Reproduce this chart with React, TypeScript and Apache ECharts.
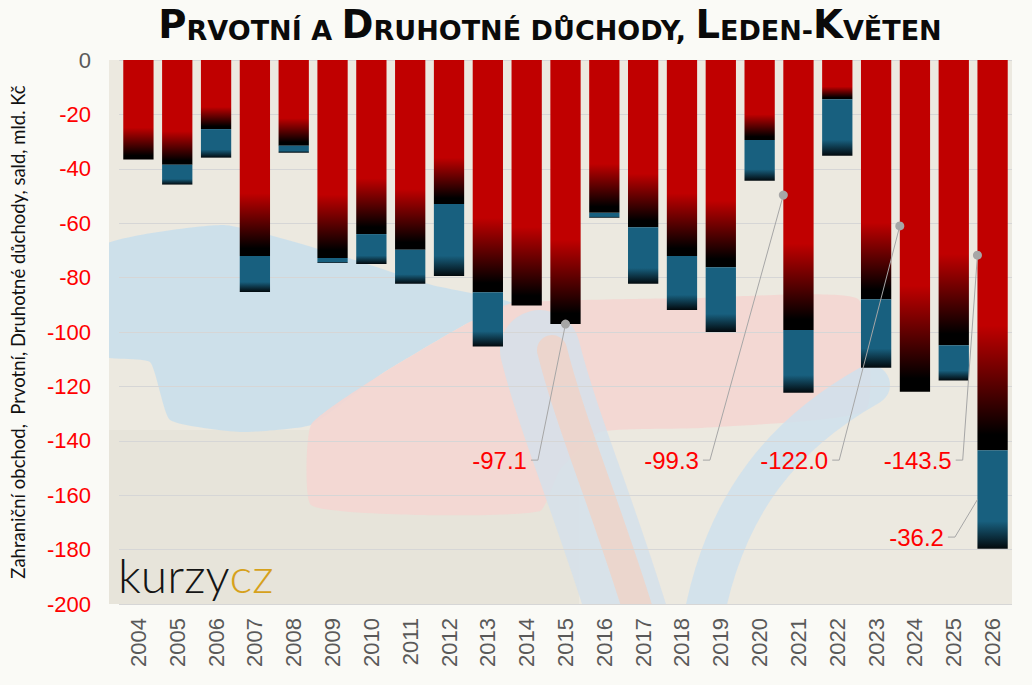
import React, { useEffect, useRef } from "react";
import * as echarts from "echarts";

const years = [
  "2004", "2005", "2006", "2007", "2008", "2009", "2010", "2011", "2012", "2013", "2014", "2015",
  "2016", "2017", "2018", "2019", "2020", "2021", "2022", "2023", "2024", "2025", "2026",
];

// Prvotní důchody (primary income balance), mld. Kč
const primary = [
  -36.6, -38.5, -25.4, -72.1, -31.5, -72.8, -64.0, -69.8, -52.9, -85.4, -90.3, -97.1,
  -56.2, -61.5, -72.1, -76.2, -29.4, -99.3, -14.4, -88.0, -122.0, -104.9, -143.5,
];

// Druhotné důchody (secondary income balance), mld. Kč
const secondary = [
  0, -7.3, -10.5, -13.2, -2.6, -1.8, -11.0, -12.5, -26.5, -19.9, 0, 0,
  -1.8, -20.8, -19.8, -23.8, -15.0, -23.0, -20.8, -25.1, 0, -12.9, -36.2,
];

const yTicks = { min: -200, max: 0, interval: 20 };

const titleText = "Prvotní a Druhotné důchody, Leden-Květen";
const yAxisTitle = "Zahraniční obchod,  Prvotní, Druhotné důchody, sald, mld. Kč";

// labelled data points: which year and which series
const labelledYears = ["2015", "2021", "2024", "2026", "2026"];
const labelledSeries = ["primary", "primary", "primary", "primary", "secondary"];

function buildTitleRich(text: string): string {
  let out = "";
  let cur = "";
  let curStyle = "";
  const flush = () => {
    if (cur) out += `{${curStyle}|${cur}}`;
    cur = "";
  };
  for (const ch of text) {
    const isUpper = ch !== ch.toLowerCase() && ch === ch.toUpperCase();
    const st = isUpper ? "B" : "s";
    if (st !== curStyle) {
      flush();
      curStyle = st;
    }
    cur += ch.toUpperCase();
  }
  flush();
  return out;
}

export default function App() {
  const ref = useRef<HTMLDivElement>(null);

  useEffect(() => {
    document.body.style.margin = "0";
    const chart = echarts.init(ref.current!, null, { renderer: "svg" });

    const BAR_FRAC = 0.78;
    const BG = "#FAFAF6";

    // annotation layout (placement of the data labels with leader lines)
    const layout = [
      { edge: 0, part: "end", dx: -0.71, ly: -147.1, dot: true },
      { edge: -1, part: "mid", dx: -2.28, ly: -147.1, dot: true },
      { edge: -1, part: "mid", dx: -1.95, ly: -147.1, dot: true },
      { edge: -1, part: "mid", dx: -0.77, ly: -147.1, dot: true },
      { edge: -1, part: "mid", dx: -0.97, ly: -175.4, dot: false },
    ];
    const annTexts: string[] = [];
    const annData = labelledYears.map((y, k) => {
      const i = years.indexOf(y);
      const isPrim = labelledSeries[k] === "primary";
      const v = isPrim ? primary[i] : secondary[i];
      const base = isPrim ? 0 : primary[i];
      const L = layout[k];
      const anchor = L.part === "end" ? base + v : base + v / 2;
      annTexts.push(v.toFixed(1));
      return [i, anchor, L.edge, L.dx, L.ly, L.dot ? 1 : 0];
    });

    const redGrad = new echarts.graphic.LinearGradient(0, 0, 0, 1, [
      { offset: 0, color: "#C00000" },
      { offset: 0.68, color: "#C00000" },
      { offset: 0.96, color: "#000000" },
      { offset: 1, color: "#000000" },
    ]);
    const blueGrad = new echarts.graphic.LinearGradient(0, 0, 0, 1, [
      { offset: 0, color: "#18607F" },
      { offset: 0.72, color: "#18607F" },
      { offset: 1, color: "#02090D" },
    ]);

    const plotL = 109, plotT = 60, plotR = 1012, plotB = 604;

    const decor: any[] = [
      {
        type: "rect",
        shape: { x: plotL, y: plotT, width: plotR - plotL, height: plotB - plotT },
        style: { fill: "#ECE9E0" },
      },
      {
        type: "rect",
        shape: { x: plotL, y: 430, width: 470, height: plotB - 430 },
        style: { fill: "#E7E4DA" },
      },
      {
        type: "polygon",
        shape: {
          smooth: 0.15,
          points: [
            [100, 247], [224, 225], [339, 255], [432, 285], [512, 303], [466, 324], [380, 375],
            [311, 425], [240, 432], [170, 420], [150, 362], [100, 355],
          ],
        },
        style: { fill: "#CADFEB", opacity: 0.9 },
      },
      {
        type: "polygon",
        shape: {
          smooth: 0.15,
          points: [
            [512, 303], [700, 298], [858, 299], [866, 410], [700, 428], [600, 432], [560, 470],
            [540, 511], [420, 515], [311, 505], [311, 425], [380, 375], [466, 324],
          ],
        },
        style: { fill: "#F4D6D2", opacity: 0.9 },
      },
      {
        type: "bezierCurve",
        shape: { x1: 540, y1: 350, cpx1: 560, cpy1: 430, cpx2: 600, cpy2: 520, x2: 635, y2: 640 },
        style: { stroke: "#D5E1EA", lineWidth: 80, fill: null, lineCap: "round", opacity: 0.85 },
      },
      {
        type: "bezierCurve",
        shape: { x1: 552, y1: 350, cpx1: 572, cpy1: 430, cpx2: 612, cpy2: 520, x2: 647, y2: 640 },
        style: { stroke: "#EFD3C8", lineWidth: 30, fill: null, lineCap: "round", opacity: 0.85 },
      },
      {
        type: "bezierCurve",
        shape: { x1: 870, y1: 385, cpx1: 790, cpy1: 430, cpx2: 720, cpy2: 500, x2: 700, y2: 640 },
        style: { stroke: "#CFE1EC", lineWidth: 40, fill: null, lineCap: "round", opacity: 0.85 },
      },
    ].map((e) => ({ ...e, z: -10, silent: true }));

    // masks keeping the decoration inside the plot area
    const masks: any[] = [
      { x: 0, y: plotB, width: 1032, height: 685 - plotB },
      { x: 0, y: plotT, width: plotL, height: plotB - plotT },
      { x: plotR, y: plotT, width: 1032 - plotR, height: plotB - plotT },
    ].map((s) => ({ type: "rect", z: -9, silent: true, shape: s, style: { fill: BG } }));

    const option: any = {
      animation: false,
      backgroundColor: BG,
      grid: { left: plotL, right: 1032 - plotR, top: plotT, bottom: 685 - plotB, containLabel: false },
      xAxis: {
        type: "category",
        data: years,
        position: "bottom",
        axisLine: { show: false, onZero: false },
        axisTick: { show: false },
        axisLabel: {
          rotate: 90,
          margin: 14,
          fontSize: 22,
          color: "#595959",
          fontFamily: "Liberation Sans, Arial, sans-serif",
        },
      },
      yAxis: {
        type: "value",
        min: yTicks.min,
        max: yTicks.max,
        interval: yTicks.interval,
        name: yAxisTitle,
        nameLocation: "middle",
        nameGap: 92,
        nameTextStyle: { fontSize: 18.5, color: "#111", fontFamily: "Lato, 'Open Sans', sans-serif" },
        axisLine: { show: false },
        axisTick: { show: false },
        splitLine: { lineStyle: { color: "#D6D6D6", width: 1 } },
        axisLabel: {
          margin: 28,
          fontSize: 22,
          fontFamily: "Liberation Sans, Arial, sans-serif",
          color: (v: any) => (Number(v) === 0 ? "#595959" : "#FF0000"),
        },
      },
      graphic: [
        ...decor,
        ...masks,
        {
          type: "text",
          z: 10,
          x: 550,
          y: 22,
          style: {
            text: buildTitleRich(titleText),
            textAlign: "center",
            textVerticalAlign: "middle",
            align: "center",
            verticalAlign: "middle",
            rich: {
              B: {
                fontSize: 38.5,
                lineHeight: 44,
                fontWeight: "bold",
                fontFamily: "'DejaVu Sans', sans-serif",
                fill: "#0A0A0A",
                verticalAlign: "bottom",
              },
              s: {
                fontSize: 27,
                lineHeight: 36,
                fontWeight: "bold",
                fontFamily: "'DejaVu Sans', sans-serif",
                fill: "#0A0A0A",
                verticalAlign: "bottom",
              },
            },
          },
        },
        {
          type: "text",
          z: 10,
          x: 118,
          y: 574,
          style: {
            text: "{a|kurzy}{b|cz}",
            textVerticalAlign: "middle",
            verticalAlign: "middle",
            rich: {
              a: { fontSize: 48, fontWeight: 300, fontFamily: "Lato, sans-serif", fill: "#141414" },
              b: { fontSize: 48, fontWeight: 300, fontFamily: "Lato, sans-serif", fill: "#D6A11C" },
            },
          },
        },
      ],
      series: [
        {
          name: "Prvotní důchody",
          type: "bar",
          stack: "total",
          barWidth: `${BAR_FRAC * 100}%`,
          data: primary,
          itemStyle: { color: redGrad },
          z: 2,
        },
        {
          name: "Druhotné důchody",
          type: "bar",
          stack: "total",
          barWidth: `${BAR_FRAC * 100}%`,
          data: secondary,
          itemStyle: { color: blueGrad },
          z: 2,
        },
        {
          type: "custom",
          coordinateSystem: "cartesian2d",
          encode: { x: 0, y: 1 },
          z: 5,
          silent: true,
          data: annData,
          renderItem: (params: any, api: any) => {
            const i = api.value(0);
            const anchor = api.value(1);
            const edge = api.value(2);
            const dx = api.value(3);
            const ly = api.value(4);
            const dot = api.value(5);
            const band = api.size([1, 0])[0];
            const p = api.coord([i, anchor]);
            const px = p[0] + (edge * band * BAR_FRAC) / 2;
            const py = p[1];
            const q = api.coord([i, ly]);
            const qx = q[0] + dx * band;
            const qy = q[1];
            const children: any[] = [
              {
                type: "polyline",
                shape: { points: [[px, py], [qx, qy], [qx - 7, qy]] },
                style: { stroke: "#A6A6A6", lineWidth: 1, fill: null },
              },
            ];
            if (dot) {
              children.push({
                type: "circle",
                shape: { cx: px, cy: py, r: 4.5 },
                style: { fill: "#A6A6A6" },
              });
            }
            children.push({
              type: "text",
              x: qx - 11,
              y: qy,
              style: {
                text: annTexts[params.dataIndex],
                textAlign: "right",
                textVerticalAlign: "middle",
                align: "right",
                verticalAlign: "middle",
                fontSize: 24,
                fontFamily: "Liberation Sans, Arial, sans-serif",
                fill: "#FF0000",
              },
            });
            return { type: "group", children };
          },
        },
      ],
    };

    chart.setOption(option);
    return () => chart.dispose();
  }, []);

  return <div ref={ref} style={{ width: 1032, height: 685 }} />;
}
